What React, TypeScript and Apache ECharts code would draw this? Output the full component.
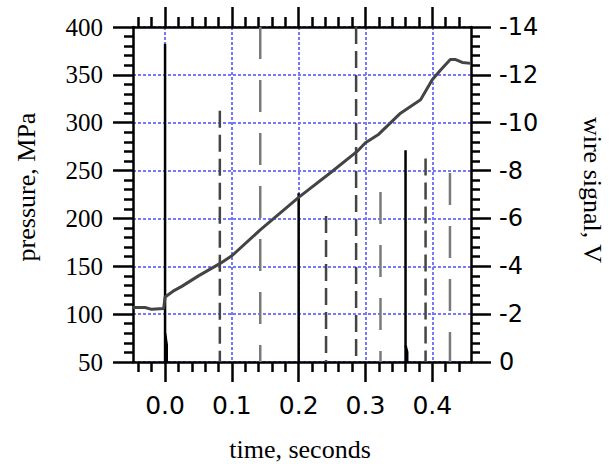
import React, { useEffect, useRef } from "react";
import * as echarts from "echarts";

// Time axis range and tick positions (seconds)
const timeMin = -0.048;
const timeMax = 0.458;
const majorTimeTicks = [0, 0.1, 0.2, 0.3, 0.4];
const minorTimeTicks = [
  -0.04, -0.02, 0.02, 0.04, 0.06, 0.08, 0.12, 0.14, 0.16, 0.18, 0.22, 0.24,
  0.26, 0.28, 0.32, 0.34, 0.36, 0.38, 0.42, 0.44,
];

// Pressure trace (MPa) against time (s)
const pressureTime = [
  -0.048, -0.03, -0.02, -0.002, 0.0, 0.012, 0.025, 0.05, 0.0825, 0.1, 0.1425,
  0.2, 0.25, 0.2875, 0.3, 0.32, 0.3525, 0.3825, 0.4, 0.4125, 0.427, 0.435,
  0.445, 0.458,
];
const pressureMPa = [
  107, 107, 105, 106, 118, 124, 129, 140, 153, 161, 188, 222, 249, 270, 279,
  288, 310, 324, 345, 355, 366, 366, 363, 362,
];

// Wire signal pulses (V), three groups by trace style
const solidTimes = [0.0, 0.2, 0.36];
const solidPeaks = [-13.3, -7.05, -8.85];
const solidHumps = [-1.2, 0, -0.7];
const darkDashTimes = [0.082, 0.241, 0.286, 0.39];
const darkDashPeaks = [-10.5, -6.1, -14, -8.5];
const grayDashTimes = [0.1425, 0.3225, 0.4265];
const grayDashPeaks = [-14, -7.1, -7.9];

const serif = "Liberation Serif";
const sans = "DejaVu Sans";

function pulseSeries(
  times: number[],
  peaks: number[],
  color: string,
  width: number,
  dash: number[] | "solid"
) {
  return times.map((t, i) => ({
    type: "line",
    xAxisIndex: 0,
    yAxisIndex: 1,
    showSymbol: false,
    silent: true,
    z: 2,
    lineStyle: { color, width, type: dash, cap: "butt" },
    data: [
      [t, peaks[i]],
      [t, 0],
    ],
  }));
}

export default function App() {
  const ref = useRef<HTMLDivElement>(null);

  useEffect(() => {
    if (!ref.current) return;
    const chart = echarts.init(ref.current, null, { renderer: "svg" });

    const axisLine = {
      show: true,
      onZero: false,
      lineStyle: { color: "#000", width: 2.5 },
    };
    const tickStyle = { color: "#000", width: 2.5 };
    const gridLine = {
      show: true,
      lineStyle: { color: "#7878ff", width: 2, type: [3, 2] },
    };

    const timeAxisBase = {
      type: "value",
      min: timeMin,
      max: timeMax,
      minInterval: 0.1,
      maxInterval: 0.1,
      gridIndex: 0,
    };

    const humpSeries = solidTimes
      .map((t, i) => ({ t, h: solidHumps[i] }))
      .filter((d) => d.h !== 0)
      .map((d) => ({
        type: "line",
        xAxisIndex: 0,
        yAxisIndex: 1,
        showSymbol: false,
        silent: true,
        z: 2,
        lineStyle: { color: "#000", width: 2.5 },
        data: [
          [d.t, d.h],
          [d.t + 0.0025, d.h * 0.6],
          [d.t + 0.0025, 0],
        ],
      }));

    chart.setOption({
      animation: false,
      backgroundColor: "#fff",
      grid: { left: 133, right: 142, top: 27, bottom: 111, containLabel: false },
      xAxis: [
        {
          ...timeAxisBase,
          position: "bottom",
          axisLine,
          axisTick: {
            show: true,
            inside: false,
            length: 20,
            lineStyle: tickStyle,
            customValues: majorTimeTicks,
          },
          axisLabel: {
            show: true,
            customValues: majorTimeTicks,
            formatter: (v: number) => v.toFixed(1),
            fontFamily: sans,
            fontSize: 25,
            color: "#000",
            margin: 31,
          },
          splitLine: gridLine,
        },
        {
          ...timeAxisBase,
          position: "bottom",
          axisLine: { show: false, onZero: false },
          axisTick: {
            show: true,
            inside: false,
            length: 10,
            lineStyle: tickStyle,
            customValues: minorTimeTicks,
          },
          axisLabel: { show: false },
          splitLine: { show: false },
        },
        {
          ...timeAxisBase,
          position: "top",
          axisLine,
          axisTick: {
            show: true,
            inside: false,
            length: 20,
            lineStyle: tickStyle,
            customValues: majorTimeTicks,
          },
          axisLabel: { show: false },
          splitLine: { show: false },
        },
        {
          ...timeAxisBase,
          position: "top",
          axisLine: { show: false, onZero: false },
          axisTick: {
            show: true,
            inside: false,
            length: 10,
            lineStyle: tickStyle,
            customValues: minorTimeTicks,
          },
          axisLabel: { show: false },
          splitLine: { show: false },
        },
      ],
      yAxis: [
        {
          type: "value",
          position: "left",
          min: 50,
          max: 400,
          interval: 50,
          axisLine,
          axisTick: { show: true, inside: false, length: 20, lineStyle: tickStyle },
          minorTick: { show: true, splitNumber: 5, length: 9, lineStyle: tickStyle },
          axisLabel: {
            fontFamily: serif,
            fontSize: 25,
            color: "#000",
            margin: 30,
          },
          splitLine: gridLine,
        },
        {
          type: "value",
          position: "right",
          inverse: true,
          min: -14,
          max: 0,
          interval: 2,
          axisLine,
          axisTick: { show: true, inside: false, length: 20, lineStyle: tickStyle },
          minorTick: { show: true, splitNumber: 5, length: 9, lineStyle: tickStyle },
          axisLabel: {
            fontFamily: sans,
            fontSize: 24,
            color: "#000",
            margin: 28,
          },
          splitLine: { show: false },
        },
      ],
      graphic: [
        {
          type: "text",
          x: 26,
          y: 187,
          rotation: Math.PI / 2,
          style: {
            text: "pressure, MPa",
            font: `26px "${serif}"`,
            fill: "#000",
            align: "center",
            verticalAlign: "middle",
          },
        },
        {
          type: "text",
          x: 592,
          y: 190,
          rotation: -Math.PI / 2,
          style: {
            text: "wire signal, V",
            font: `26px "${serif}"`,
            fill: "#000",
            align: "center",
            verticalAlign: "middle",
          },
        },
        {
          type: "text",
          x: 300,
          y: 449,
          style: {
            text: "time, seconds",
            font: `26px "${serif}"`,
            fill: "#000",
            align: "center",
            verticalAlign: "middle",
          },
        },
      ],
      series: [
        ...pulseSeries(solidTimes, solidPeaks, "#000", 2.5, "solid"),
        ...humpSeries,
        ...pulseSeries(darkDashTimes, darkDashPeaks, "#444", 2.5, [17, 7]),
        ...pulseSeries(grayDashTimes, grayDashPeaks, "#7a7a7a", 2.5, [32, 21]),
        {
          type: "line",
          name: "pressure",
          xAxisIndex: 0,
          yAxisIndex: 0,
          showSymbol: false,
          silent: true,
          z: 3,
          lineStyle: { color: "#444", width: 3 },
          data: pressureTime.map((t, i) => [t, pressureMPa[i]]),
        },
      ],
    });

    return () => chart.dispose();
  }, []);

  return (
    <div
      ref={ref}
      style={{ position: "fixed", left: 0, top: 0, width: 613, height: 473 }}
    />
  );
}
